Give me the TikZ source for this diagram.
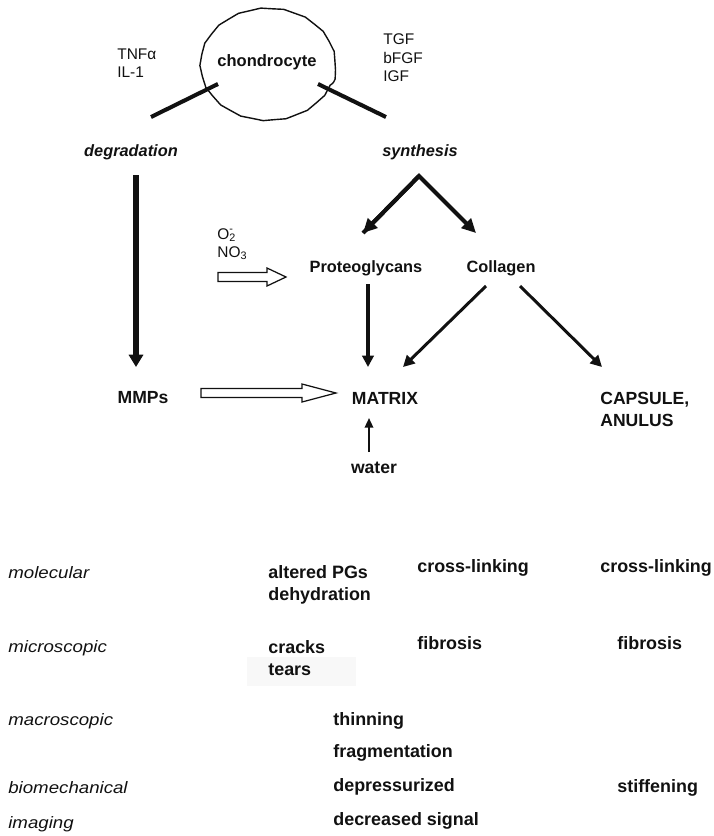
\documentclass[tikz,border=0pt]{standalone}
\usepackage{fontspec}
\setmainfont{Liberation Sans}
\newfontfamily\rowfont{Liberation Sans}[FakeStretch=1.13]
\usetikzlibrary{arrows.meta,decorations.pathmorphing}
\definecolor{Ink}{HTML}{111111}
\definecolor{Haze}{HTML}{F8F8F8}

\tikzset{
  word/.style={inner sep=0pt,text=Ink,font=\fontsize{10}{12.5}\selectfont\bfseries},
  small/.style={inner sep=0pt,anchor=west,align=left,text=Ink,font=\fontsize{8.8}{10.2}\selectfont},
  rowname/.style={inner sep=0pt,anchor=west,text=Ink,font=\fontsize{9.4}{11}\selectfont\rowfont\itshape},
  cellname/.style={inner sep=0pt,anchor=west,align=left,text=Ink,font=\fontsize{10.2}{12.5}\selectfont\bfseries},
  flow/.style={line width=#1,-{Triangle[length=6.5pt,width=6.5pt]}},
  flow/.default=1.8pt,
  hollow/.style={draw=Ink,line width=0.7pt,fill=white,line join=miter}
}

\begin{document}
\begin{tikzpicture}[x=0.02cm,y=-0.02cm]
  \useasboundingbox (0,0) rectangle (714,836);

  \draw[Ink,line width=0.8pt,decorate,decoration={snake,amplitude=0.25pt,segment length=13pt}]
    (268,70) ellipse [x radius=1.35cm,y radius=1.12cm];
  \node[word,font=\fontsize{9.4}{11}\selectfont\bfseries] (chondro) at (267,62) {chondrocyte};
  \node[small] (cytoneg) at (117,63) {TNFα\\IL-1};
  \node[small,font=\fontsize{8.8}{10.6}\selectfont] (cytopos) at (383,58) {TGF\\bFGF\\IGF};

  \node[word,font=\fontsize{9.3}{11}\selectfont\bfseries\itshape] (degr) at (131,152) {degradation};
  \node[word,font=\fontsize{9.3}{11}\selectfont\bfseries\itshape] (synth) at (420,152) {synthesis};

  \node[word,font=\fontsize{9.3}{11}\selectfont\bfseries] (pg) at (366,268) {Proteoglycans};
  \node[word,font=\fontsize{9.3}{11}\selectfont\bfseries] (coll) at (501,268) {Collagen};
  \node[small] (radicals) at (217,244) {O\rlap{\textsubscript{2}}\textsuperscript{-}\\NO\textsubscript{3}};

  \node[word] (mmps) at (143,398) {MMPs};
  \node[word] (matrix) at (385,398) {MATRIX};
  \node[word,anchor=west,align=left] (capsule) at (600,409) {CAPSULE,\\ANULUS};
  \node[word] (water) at (374,468) {water};

  \coordinate (cin1) at (218,84);  \coordinate (cout1) at (151,117);
  \coordinate (cin2) at (318,84);  \coordinate (cout2) at (386,117);
  \draw[Ink,line width=2.3pt] (cin1) -- (cout1);
  \draw[Ink,line width=2.3pt] (cin2) -- (cout2);

  \coordinate (degtop) at (136,175);  \coordinate (degend) at (136,367);
  \coordinate (apex) at (419,176);
  \coordinate (pgin) at (363,233);    \coordinate (collin) at (476,233);
  \coordinate (pgout) at (368,284);   \coordinate (pgend) at (368,367);
  \coordinate (collout1) at (486,286); \coordinate (collend1) at (403,367);
  \coordinate (collout2) at (520,286); \coordinate (collend2) at (602,367);
  \coordinate (waterup) at (369,452); \coordinate (waterend) at (369,418);
  \coordinate (oxstart) at (218,277); \coordinate (mmpstart) at (201,393);

  \draw[Ink,flow=3.4pt,-{Triangle[length=7pt,width=8pt]}] (degtop) -- (degend);
  \draw[Ink,flow=2.3pt,-{Triangle[length=8pt,width=7.5pt]},line join=miter] (pgin) -- (apex) -- (collin);
  \draw[Ink,flow=2.3pt,-{Triangle[length=8pt,width=7.5pt]}] (apex) -- (pgin);
  \draw[Ink,flow=2pt] (pgout) -- (pgend);
  \draw[Ink,flow=1.7pt] (collout1) -- (collend1);
  \draw[Ink,flow=1.7pt] (collout2) -- (collend2);
  \draw[Ink,flow=1.1pt,-{Triangle[length=5.5pt,width=4.8pt]}] (waterup) -- (waterend);

  \draw[hollow] (oxstart) -- ++(0,-4.5) -- ++(49,0) -- ++(0,-4.5) -- ++(19,9)
    -- ++(-19,9) -- ++(0,-4.5) -- ++(-49,0) -- cycle;
  \draw[hollow] (mmpstart) -- ++(0,-4.5) -- ++(101,0) -- ++(0,-4.5) -- ++(34,9)
    -- ++(-34,9) -- ++(0,-4.5) -- ++(-101,0) -- cycle;

  \fill[Haze] (247,657) rectangle (356,686);
  \foreach \name/\y/\txt in {mol/573/molecular,mic/648/microscopic,mac/721/macroscopic,bio/788/biomechanical,img/824/imaging}
    \node[rowname] (\name) at (8,\y) {\txt};
  \foreach \x/\y/\txt [count=\i] in {268/585/{altered PGs\\dehydration},417/568/cross-linking,600/568/cross-linking,
      268/658/{cracks\\tears},417/643/fibrosis,617/643/fibrosis,333/721/thinning,333/753/fragmentation,
      333/787/depressurized,617/788/stiffening,333/821/decreased signal}
    \node[cellname] (cell\i) at (\x,\y) {\txt};
\end{tikzpicture}
\end{document}
